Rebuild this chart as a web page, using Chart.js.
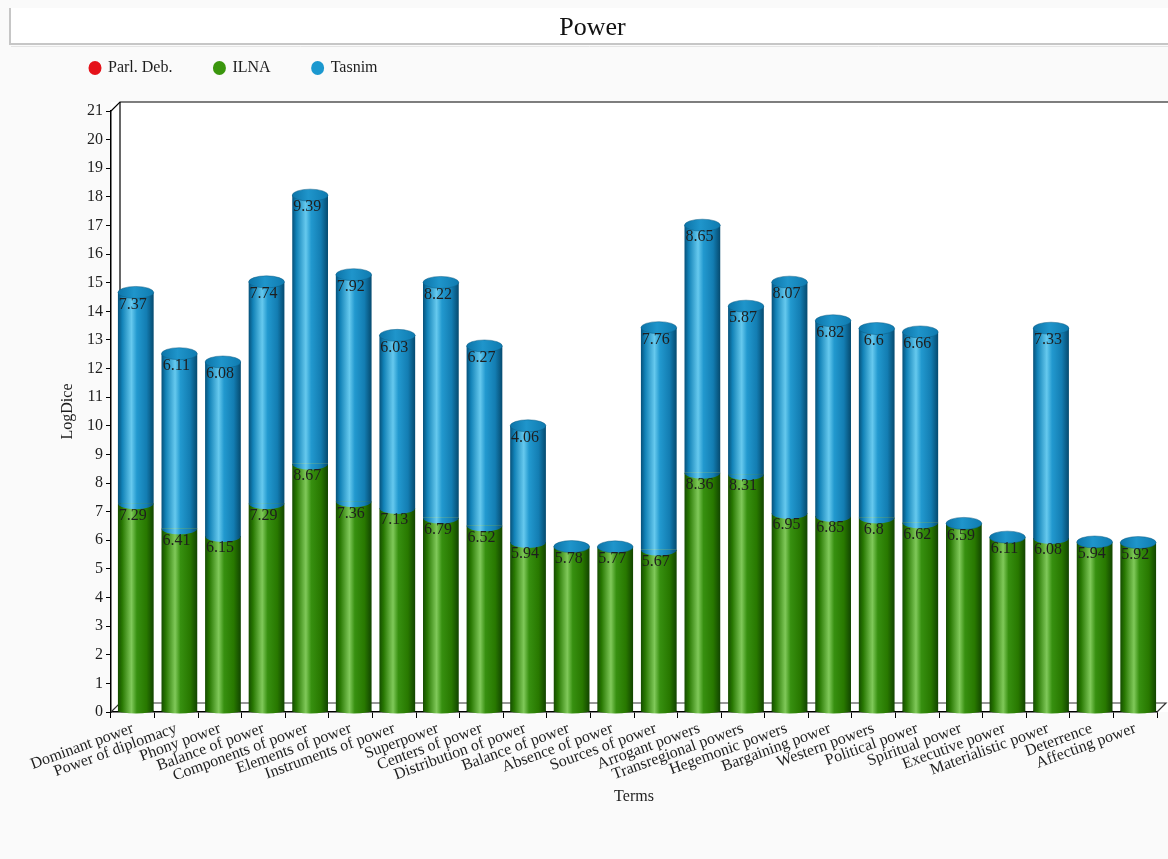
<!DOCTYPE html>
<html>
<head>
<meta charset="utf-8">
<title>Power</title>
<script src="https://cdn.jsdelivr.net/npm/chart.js@4.4.1/dist/chart.umd.min.js"></script>
<style>
  html, body { margin: 0; padding: 0; background: #fafafa; }
  #wrap { width: 1168px; height: 859px; }
  canvas { display: block; }
</style>
</head>
<body>
<div id="wrap"><canvas id="chart" width="1168" height="859"></canvas></div>
<script>
// ---- data ----
const terms = [
  "Dominant power", "Power of diplomacy", "Phony power", "Balance of power",
  "Components of power", "Elements of power", "Instruments of power", "Superpower",
  "Centers of power", "Distribution of power", "Balance of power", "Absence of power",
  "Sources of power", "Arrogant powers", "Transregional powers", "Hegemonic powers",
  "Bargaining power", "Western powers", "Political power", "Spiritual power",
  "Executive power", "Materialistic power", "Deterrence", "Affecting power"
];
const parlDebValues = [];
const ilnaValues = [
  7.29, 6.41, 6.15, 7.29, 8.67, 7.36, 7.13, 6.79, 6.52, 5.94, 5.78, 5.77,
  5.67, 8.36, 8.31, 6.95, 6.85, 6.8, 6.62, 6.59, 6.11, 6.08, 5.94, 5.92
];
const tasnimValues = [
  7.37, 6.11, 6.08, 7.74, 9.39, 7.92, 6.03, 8.22, 6.27, 4.06, null, null,
  7.76, 8.65, 5.87, 8.07, 6.82, 6.6, 6.66, null, null, 7.33, null, null
];
const yMin = 0, yMax = 21, yStep = 1;
const seriesNames = ["Parl. Deb.", "ILNA", "Tasnim"];
const seriesColors = ["#e5121a", "#3a960d", "#1b98cf"];

// ---- styling ----
const FONT = "'Liberation Serif', 'DejaVu Serif', 'Times New Roman', serif";
const BAR_PCT = 0.82;
const DX = 9, DY = 9;      // depth of the 3D frame
const SHIFT = 3;           // cylinders sit half-way into the depth
const CAP_RY = 6;          // vertical radius of the cylinder ellipses

const RED_STOPS = [[0, "#8c0a0f"], [0.36, "#ff6a6f"], [0.52, "#e5121a"], [1, "#8c0a0f"]];
const GREEN_STOPS = [
  [0, "#154c00"], [0.12, "#287802"], [0.38, "#80c95a"], [0.53, "#379010"],
  [0.8, "#287800"], [1, "#124400"]
];
const BLUE_STOPS = [
  [0, "#06517a"], [0.12, "#1282b7"], [0.38, "#66c9ee"], [0.53, "#2299cf"],
  [0.8, "#137db2"], [1, "#054a6f"]
];

function hGradient(ctx, cx, w, stops) {
  const g = ctx.createLinearGradient(cx - w / 2, 0, cx + w / 2, 0);
  stops.forEach(([o, c]) => g.addColorStop(o, c));
  return g;
}

// horizontal shading across each bar, located from the category scale
function cylinderFill(stops) {
  return (c) => {
    const chart = c.chart;
    const xs = chart.scales && chart.scales.x;
    if (c.type !== "data" || !xs || !chart.chartArea || !isFinite(xs.width)) return stops[2][1];
    const cx = xs.getPixelForValue(c.dataIndex);
    const w = (xs.width / terms.length) * BAR_PCT;
    return hGradient(chart.ctx, cx, w, stops);
  };
}

function halfEllipse(ctx, cx, cy, rx, ry) {
  ctx.beginPath();
  ctx.moveTo(cx - rx, cy);
  ctx.ellipse(cx, cy, rx, ry, 0, Math.PI, 0, true);
  ctx.closePath();
}

const cylinder3d = {
  id: "cylinder3d",
  beforeDraw(chart) {
    const { ctx, chartArea: a, width } = chart;
    ctx.save();
    ctx.fillStyle = "#fafafa";
    ctx.fillRect(0, 0, width, chart.height);
    // white plotting region
    ctx.fillStyle = "#ffffff";
    ctx.fillRect(a.left, a.top - DY, width - a.left, a.bottom - a.top + DY);
    // heading band
    ctx.fillStyle = "#ffffff";
    ctx.fillRect(9, 8, width - 9, 36);
    ctx.strokeStyle = "#c6c6c6";
    ctx.lineWidth = 2;
    ctx.beginPath();
    ctx.moveTo(10, 8); ctx.lineTo(10, 44); ctx.lineTo(width, 44);
    ctx.stroke();
    ctx.strokeStyle = "#e4e4e4";
    ctx.lineWidth = 1;
    ctx.beginPath();
    ctx.moveTo(11, 46.5); ctx.lineTo(width, 46.5);
    ctx.stroke();
    ctx.restore();
  },
  beforeDatasetsDraw(chart) {
    const { ctx, chartArea: a, width } = chart;
    ctx.save();
    ctx.strokeStyle = "#000";
    ctx.lineWidth = 1.2;
    // back wall: top edge and corner
    ctx.beginPath();
    ctx.moveTo(a.left, a.top);
    ctx.lineTo(a.left + DX, a.top - DY);
    ctx.lineTo(width, a.top - DY);
    ctx.stroke();
    ctx.beginPath();
    ctx.moveTo(a.left + DX, a.top - DY);
    ctx.lineTo(a.left + DX, a.bottom - DY);
    ctx.stroke();
    // floor
    ctx.strokeStyle = "#333";
    ctx.beginPath();
    ctx.moveTo(a.left, a.bottom);
    ctx.lineTo(a.left + DX, a.bottom - DY);
    ctx.lineTo(a.right + DX, a.bottom - DY);
    ctx.lineTo(a.right, a.bottom);
    ctx.stroke();
    ctx.restore();
    // bars are drawn pushed slightly into the depth
    ctx.save();
    ctx.translate(SHIFT, 0);
  },
  afterDatasetsDraw(chart) {
    const { ctx } = chart;
    ctx.restore();
    const metaG = chart.getDatasetMeta(1);
    const metaB = chart.getDatasetMeta(2);
    ctx.save();
    metaG.data.forEach((g, i) => {
      if (ilnaValues[i] == null) return;
      const w = g.width, cx = g.x + SHIFT, rx = w / 2;
      const b = metaB.data[i];
      const hasTop = tasnimValues[i] != null && b;
      // rounded foot
      ctx.fillStyle = hGradient(ctx, cx, w, GREEN_STOPS);
      halfEllipse(ctx, cx, g.base - 1, rx, 3);
      ctx.fill();
      // curved joint between the stacked segments
      if (hasTop) {
        ctx.fillStyle = hGradient(ctx, cx, w, BLUE_STOPS);
        halfEllipse(ctx, cx, g.y, rx, CAP_RY);
        ctx.fill();
      }
      // top cap
      const topY = hasTop ? b.y : g.y;
      const cap = ctx.createLinearGradient(cx - rx, 0, cx + rx, 0);
      cap.addColorStop(0, "#0c74a8");
      cap.addColorStop(0.45, "#1f95cb");
      cap.addColorStop(1, "#0f7bb0");
      ctx.fillStyle = cap;
      ctx.beginPath();
      ctx.ellipse(cx, topY, rx, CAP_RY, 0, 0, Math.PI * 2);
      ctx.fill();
      ctx.strokeStyle = "rgba(10,90,130,0.6)";
      ctx.lineWidth = 0.8;
      ctx.stroke();
    });
    // value labels
    ctx.fillStyle = "#1e1e1e";
    ctx.font = "16px " + FONT;
    ctx.textAlign = "center";
    ctx.textBaseline = "middle";
    [[1, ilnaValues], [2, tasnimValues]].forEach(([di, vals]) => {
      const meta = chart.getDatasetMeta(di);
      meta.data.forEach((el, i) => {
        if (vals[i] == null) return;
        ctx.fillText(String(vals[i]), el.x, el.y + 12);
      });
    });
    ctx.restore();
  },
  afterDraw(chart) {
    // legend row
    const { ctx } = chart;
    ctx.save();
    ctx.font = "16px " + FONT;
    ctx.textBaseline = "middle";
    ctx.textAlign = "left";
    let x = 95;
    const y = 68;
    chart.data.datasets.forEach((ds, i) => {
      ctx.fillStyle = seriesColors[i];
      ctx.beginPath();
      ctx.ellipse(x, y, 6.5, 7, 0, 0, Math.PI * 2);
      ctx.fill();
      ctx.fillStyle = "#1e1e1e";
      ctx.fillText(ds.label, x + 13, y);
      x += 13 + ctx.measureText(ds.label).width + 47;
    });
    ctx.restore();
  }
};

const yTickValues = [];
for (let v = yMin; v <= yMax; v += yStep) yTickValues.push(v);

new Chart(document.getElementById("chart"), {
  type: "bar",
  data: {
    labels: terms,
    datasets: [
      { label: seriesNames[0], data: parlDebValues, backgroundColor: cylinderFill(RED_STOPS) },
      { label: seriesNames[1], data: ilnaValues, backgroundColor: cylinderFill(GREEN_STOPS) },
      { label: seriesNames[2], data: tasnimValues, backgroundColor: cylinderFill(BLUE_STOPS) }
    ]
  },
  options: {
    responsive: false,
    devicePixelRatio: 1,
    animation: false,
    layout: { padding: { top: 10, left: 28, right: 11, bottom: 0 } },
    datasets: {
      bar: { stack: "all", barPercentage: BAR_PCT, categoryPercentage: 1, borderWidth: 0 }
    },
    plugins: {
      legend: { display: false },
      tooltip: { enabled: false },
      title: {
        display: true,
        text: "Power",
        color: "#111",
        font: { family: FONT, size: 26, weight: "normal" },
        padding: { top: 2.4, bottom: 67.4 }
      }
    },
    scales: {
      x: {
        stacked: true,
        grid: { display: true, drawOnChartArea: false, drawTicks: true, tickLength: 6, color: "#000", offset: true },
        border: { display: true, color: "#000", width: 1.5 },
        ticks: {
          autoSkip: false, minRotation: 20, maxRotation: 20, padding: 1,
          color: "#1e1e1e", font: { family: FONT, size: 16 }
        },
        title: {
          display: true, text: "Terms", color: "#1e1e1e",
          font: { family: FONT, size: 16 },
          padding: { top: 4, bottom: 52.4 }
        },
        afterFit(scale) { scale.height = 147; }
      },
      y: {
        stacked: true,
        min: yMin, max: yMax,
        afterBuildTicks(scale) { scale.ticks = yTickValues.map(v => ({ value: v })); },
        grid: { display: true, drawOnChartArea: false, drawTicks: true, tickLength: 5, color: "#000" },
        border: { display: true, color: "#000", width: 1.5 },
        ticks: { padding: 3, color: "#1e1e1e", font: { family: FONT, size: 16 } },
        title: {
          display: true, text: "LogDice", color: "#1e1e1e",
          font: { family: FONT, size: 16 },
          padding: { top: 30.4, bottom: 4 }
        },
        afterFit(scale) { scale.width = 83; }
      }
    }
  },
  plugins: [cylinder3d]
});
</script>
</body>
</html>
